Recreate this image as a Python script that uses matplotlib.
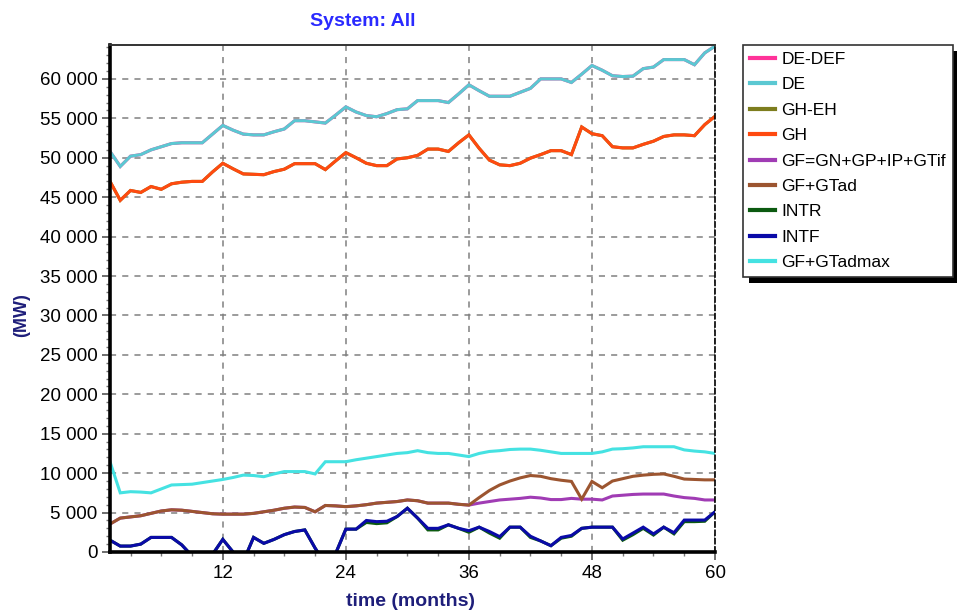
import matplotlib
matplotlib.use("Agg")
import matplotlib.pyplot as plt
from matplotlib.ticker import MultipleLocator, FuncFormatter
from matplotlib.patches import Rectangle

plt.rcParams['font.family'] = ['Liberation Sans', 'DejaVu Sans']

months = list(range(1, 61))

de = [50800, 48900, 50200, 50400, 51000, 51400, 51800, 51900, 51900, 51900,
      53000, 54100, 53500, 53000, 52900, 52900, 53300, 53650, 54700, 54700,
      54550, 54400, 55400, 56450, 55800, 55350, 55200, 55600, 56100, 56200,
      57250, 57250, 57250, 57000, 58100, 59250, 58500, 57800, 57800, 57800,
      58300, 58800, 60000, 60000, 60000, 59550, 60600, 61700, 61100, 60400,
      60300, 60350, 61300, 61500, 62450, 62450, 62450, 61800, 63300, 64150]

gh = [47000, 44600, 45850, 45600, 46350, 46000, 46700, 46900, 47000, 47000,
      48200, 49300, 48600, 47950, 47900, 47850, 48250, 48550, 49250, 49250,
      49250, 48500, 49600, 50650, 50000, 49300, 49000, 49000, 49850, 50000,
      50300, 51100, 51100, 50800, 51900, 52900, 51200, 49700, 49100, 49000,
      49300, 49950, 50400, 50900, 50900, 50400, 53900, 53050, 52800, 51400,
      51250, 51250, 51700, 52100, 52700, 52900, 52900, 52800, 54200, 55250]

# hidden under DE / GH in the picture
de_def = list(de)
gh_eh = list(gh)

gf_gtad = [3550, 4300, 4450, 4600, 4900, 5200, 5350, 5300, 5150, 5000,
           4850, 4800, 4800, 4800, 4900, 5100, 5300, 5550, 5700, 5650,
           5100, 5900, 5850, 5750, 5850, 6000, 6200, 6300, 6400, 6600,
           6500, 6200, 6200, 6200, 6050, 5950, 6900, 7800, 8500, 9000,
           9400, 9700, 9600, 9300, 9100, 8950, 6700, 8950, 8150, 9000,
           9300, 9600, 9750, 9850, 9900, 9600, 9250, 9200, 9150, 9150]

gf = [3550, 4300, 4450, 4600, 4900, 5200, 5350, 5300, 5150, 5000,
      4850, 4800, 4800, 4800, 4900, 5100, 5300, 5550, 5700, 5650,
      5100, 5900, 5850, 5750, 5850, 6000, 6200, 6300, 6400, 6600,
      6500, 6200, 6200, 6200, 6050, 5950, 6200, 6400, 6600, 6700,
      6800, 6950, 6850, 6650, 6650, 6800, 6700, 6700, 6600, 7100,
      7200, 7300, 7350, 7350, 7350, 7100, 6900, 6800, 6600, 6600]

gf_gtadmax = [11450, 7500, 7650, 7600, 7500, 8000, 8500, 8550, 8600, 8800,
              9000, 9200, 9450, 9750, 9700, 9550, 9900, 10200, 10200, 10200,
              9900, 11450, 11450, 11450, 11700, 11900, 12100, 12300, 12500, 12600,
              12850, 12600, 12500, 12500, 12300, 12100, 12500, 12750, 12850, 13000,
              13050, 13050, 12900, 12700, 12500, 12500, 12500, 12500, 12700, 13050,
              13100, 13200, 13350, 13350, 13350, 13350, 12950, 12800, 12700, 12500]

intf = [1500, 750, 750, 1000, 1850, 1850, 1850, 900, -500, -1500,
        -300, 1600, 0, -1200, 1850, 1100, 1600, 2200, 2600, 2800,
        500, -1500, -200, 2900, 2900, 4000, 3850, 3900, 4500, 5550,
        4300, 3000, 3000, 3450, 3000, 2700, 3150, 2600, 1950, 3150,
        3150, 2000, 1400, 800, 1850, 2100, 3000, 3150, 3150, 3150,
        1650, 2400, 3150, 2300, 3150, 2450, 4050, 4050, 4050, 5100]

intr = [1500, 750, 750, 1000, 1850, 1850, 1850, 900, -500, -1500,
        -300, 1600, 0, -1200, 1850, 1100, 1600, 2200, 2600, 2800,
        500, -1500, -200, 2900, 2900, 3750, 3600, 3700, 4500, 5550,
        4300, 2800, 2800, 3450, 3000, 2500, 3150, 2400, 1750, 3150,
        3150, 1850, 1400, 800, 1750, 2000, 3000, 3150, 3150, 3150,
        1500, 2200, 3000, 2150, 3150, 2300, 3850, 3850, 3900, 5100]

series = [
    ("DE-DEF", de_def, "#ff3399"),
    ("DE", de, "#5bc8d2"),
    ("GH-EH", gh_eh, "#7d7d1e"),
    ("GH", gh, "#ff4a10"),
    ("GF=GN+GP+IP+GTif", gf, "#a03cb4"),
    ("GF+GTad", gf_gtad, "#9c5530"),
    ("INTR", intr, "#0c5a10"),
    ("INTF", intf, "#0a0aa8"),
    ("GF+GTadmax", gf_gtadmax, "#45e2e2"),
]

fig = plt.figure(figsize=(9.57, 6.14), dpi=100)
ax = fig.add_axes([110/957, 1-552/614, (715-110)/957, (552-45)/614])

for name, vals, col in series:
    ax.plot(months, vals, color=col, lw=2.2, label=name, solid_joinstyle='miter')

ax.set_xlim(1, 60)
ax.set_ylim(0, 64300)
ax.xaxis.set_major_locator(MultipleLocator(12))
ax.xaxis.set_minor_locator(MultipleLocator(3))
ax.yaxis.set_major_locator(MultipleLocator(5000))
ax.yaxis.set_minor_locator(MultipleLocator(1000))
ax.yaxis.set_major_formatter(FuncFormatter(lambda v, p: f"{int(v):,}".replace(",", " ")))
ax.tick_params(which='major', length=6, width=1.2, color='#555555', labelsize=13.5, pad=3)
ax.tick_params(which='minor', length=3, width=1, color='#777777')
ax.grid(True, which='major', color='#808080', linestyle=(0, (4, 4)), lw=1.1)

for s in ['left', 'bottom']:
    ax.spines[s].set_linewidth(2.6)
    ax.spines[s].set_color('black')
ax.spines['top'].set_linewidth(1.4)
ax.spines['top'].set_color('#333333')
ax.spines['right'].set_linewidth(1.2)
ax.spines['right'].set_linestyle((0, (3, 2)))

fig.text(363/957, 1-22/614, "System: All", ha='center', va='center',
         color='#2a2aff', fontsize=14, fontweight='bold')
fig.text(410/957, 1-601/614, "time (months)", ha='center', va='center',
         color='#1e1e7a', fontsize=14, fontweight='bold')
fig.text(22/957, 1-315/614, "(MW)", ha='center', va='center', rotation=90,
         color='#1e1e7a', fontsize=13, fontweight='bold')

leg = fig.legend(loc='upper left', bbox_to_anchor=(743/957, 1-45/614),
                 bbox_transform=fig.transFigure, borderaxespad=0,
                 fancybox=False, framealpha=1, edgecolor='#333333',
                 fontsize=12.5, handlelength=1.45, handletextpad=0.35,
                 labelspacing=0.59, borderpad=0.4)
leg.get_frame().set_linewidth(1.2)
for h in leg.get_lines():
    h.set_linewidth(3)

fig.canvas.draw()
bb = leg.get_window_extent().transformed(fig.transFigure.inverted())
shadow = Rectangle((bb.x0 + 6/957, bb.y0 - 6/614), bb.width, bb.height,
                   transform=fig.transFigure, facecolor='black', edgecolor='none',
                   zorder=leg.get_zorder() - 0.1)
fig.patches.append(shadow)

fig.savefig("out.png", dpi=100)
